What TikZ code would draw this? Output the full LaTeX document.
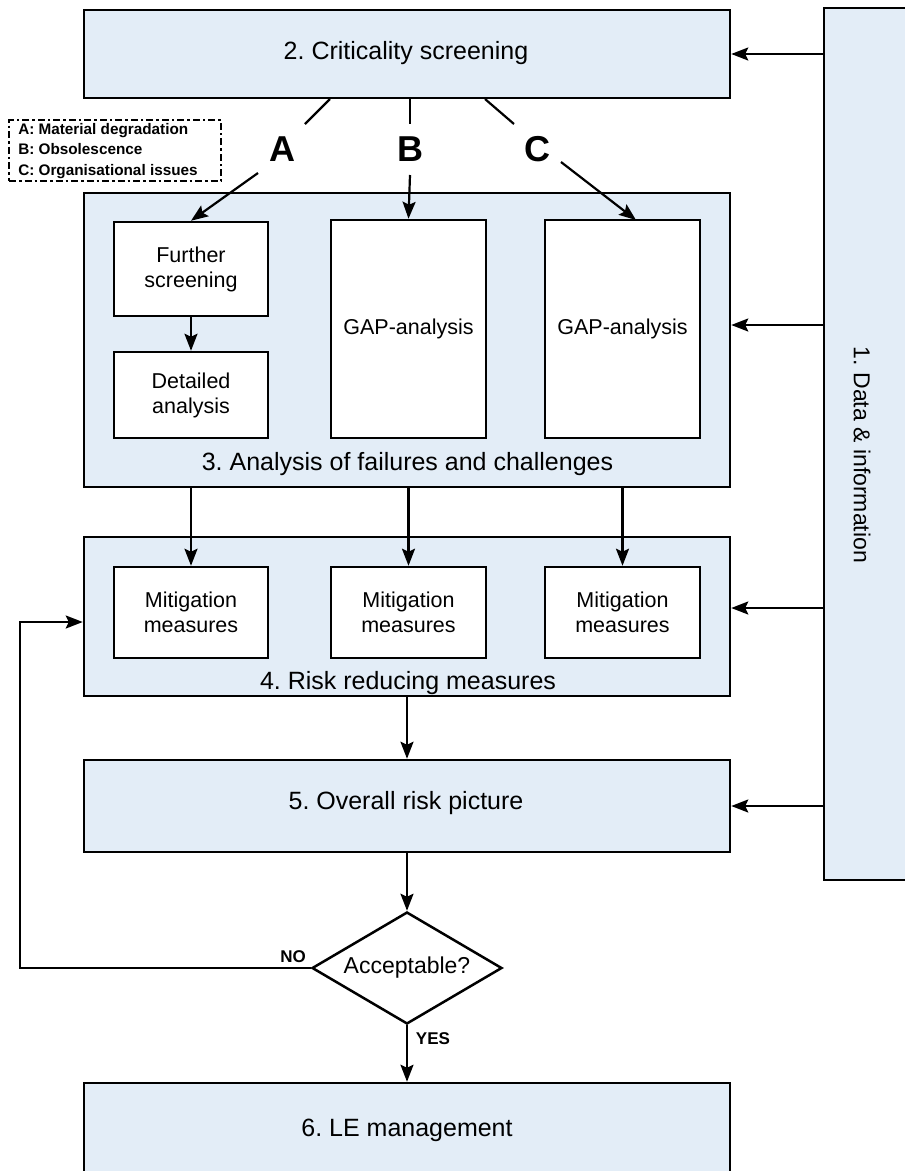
\documentclass[tikz,border=0pt]{standalone}
\usepackage{fontspec}
\setmainfont{Liberation Sans}
\usetikzlibrary{arrows.meta,shapes.geometric}
\definecolor{boxblue}{HTML}{E3EDF7}
\begin{document}
\frenchspacing
\begin{tikzpicture}[x=1pt,y=-1pt,
  line width=2.5pt,
  bigbox/.style={draw=black,fill=boxblue,rectangle,inner sep=0pt},
  wbox/.style={draw=black,fill=white,rectangle,inner sep=0pt,align=center,font=\fontsize{21.5}{25}\selectfont},
  arr/.style={line width=2.2pt,-{Stealth[length=17pt,width=13pt,inset=3pt]}},
  ttl/.style={font=\fontsize{25}{28}\selectfont},
  big/.style={font=\fontsize{36}{40}\selectfont\bfseries},
  lbl/.style={font=\fontsize{17}{20}\selectfont\bfseries}
]
\useasboundingbox (0,0) rectangle (905,1171);
% main boxes
\node[bigbox,minimum width=646pt,minimum height=88pt] (b2) at (407,54) {};
\node[ttl] (t2) at (406,53) {2. Criticality screening};
\node[bigbox,minimum width=100pt,minimum height=872pt] (b1) at (874,444) {};
\node[ttl,font=\fontsize{23}{26}\selectfont,rotate=-90] (t1) at (862,455) {1. Data \& information};
\node[bigbox,minimum width=646pt,minimum height=294pt] (b3) at (407,340) {};
\node[ttl] (t3) at (407.5,464) {3. Analysis of failures and challenges};
\node[bigbox,minimum width=646pt,minimum height=159pt] (b4) at (407,616.5) {};
\node[ttl] (t4) at (408,683) {4. Risk reducing measures};
\node[bigbox,minimum width=646pt,minimum height=92pt] (b5) at (407,806) {};
\node[ttl] (t5) at (406,803) {5. Overall risk picture};
\node[bigbox,minimum width=646pt,minimum height=100pt] (b6) at (407,1133) {};
\node[ttl] (t6) at (407,1130) {6. LE management};
% inner boxes
\node[wbox,minimum width=154pt,minimum height=94pt] (fs) at (191,269) {Further\\screening};
\node[wbox,minimum width=154pt,minimum height=86pt] (da) at (191,395) {Detailed\\analysis};
\node[wbox,minimum width=155pt,minimum height=218pt] (g1) at (408.5,329) {GAP-analysis};
\node[wbox,minimum width=155pt,minimum height=218pt] (g2) at (622.5,329) {GAP-analysis};
\node[wbox,minimum width=154pt,minimum height=91pt] (m1) at (191,612.5) {Mitigation\\measures};
\node[wbox,minimum width=155pt,minimum height=91pt] (m2) at (408.5,612.5) {Mitigation\\measures};
\node[wbox,minimum width=155pt,minimum height=91pt] (m3) at (622.5,612.5) {Mitigation\\measures};
% diamond
\node[draw,diamond,aspect=1.68,inner sep=0pt,minimum width=190pt,minimum height=112pt,fill=white] (acc) at (407,968) {};
\node[font=\fontsize{23}{26}\selectfont] (acct) at (407,968) {Acceptable?};
% legend
\node[draw,dash pattern=on 7pt off 3pt on 2.5pt off 3pt,line width=2pt,anchor=north west,minimum width=212pt,minimum height=61pt,inner sep=0pt] (leg) at (8,119) {};
\node[anchor=north west,align=left,inner sep=0pt,font=\fontsize{15.3}{20.5}\selectfont\bfseries] (legt) at (17,122) {A: Material degradation\\B: Obsolescence\\C: Organisational issues};
% A B C labels
\node[big] (la) at (282,149) {A};
\node[big] (lb) at (410,149) {B};
\node[big] (lc) at (537,149) {C};
\coordinate (a1) at (330,99);
\coordinate (a2) at (305,124);
\coordinate (a3) at (258,173);
\coordinate (b1a) at (410,99);
\coordinate (b2a) at (410,124);
\coordinate (b3a) at (410,175);
\coordinate (c1) at (485,99);
\coordinate (c2) at (514,124);
\coordinate (c3) at (561,162);
\coordinate (c4) at (636,220);
\draw[line width=2.2pt] (a1) -- (a2);
\draw[arr] (a3) -- (fs.north);
\draw[line width=2.2pt] (b1a) -- (b2a);
\draw[arr] (b3a) -- (g1.north);
\draw[line width=2.2pt] (c1) -- (c2);
\draw[arr] (c3) -- (c4);
% flow arrows
\draw[arr] (fs.south) -- (da.north);
\draw[arr] (b3.south -| m1.north) -- (m1.north);
\draw[arr] (b3.south -| m2.north) -- (m2.north);
\draw[arr] (b3.south -| m3.north) -- (m3.north);
\draw[arr] (b4.south -| acc.north) -- (b5.north -| acc.north);
\draw[arr] (b5.south -| acc.north) -- (acc.north);
\draw[arr] (acc.south) -- (b6.north -| acc.south);
% data arrows
\draw[arr] (b1.west |- b2.east) -- (b2.east);
\draw[arr] (b1.west |- 0,325) -- (b3.east |- 0,325);
\draw[arr] (b1.west |- 0,608) -- (b4.east |- 0,608);
\draw[arr] (b1.west |- b5.east) -- (b5.east);
% NO loop
\coordinate (nl) at (20,968);
\coordinate (nu) at (20,622);
\draw[arr] (acc.west) -- (nl) -- (nu) -- (b4.west |- nu);
\node[lbl] (no) at (293,957) {NO};
\node[lbl] (yes) at (433,1039) {YES};
\end{tikzpicture}
\end{document}
